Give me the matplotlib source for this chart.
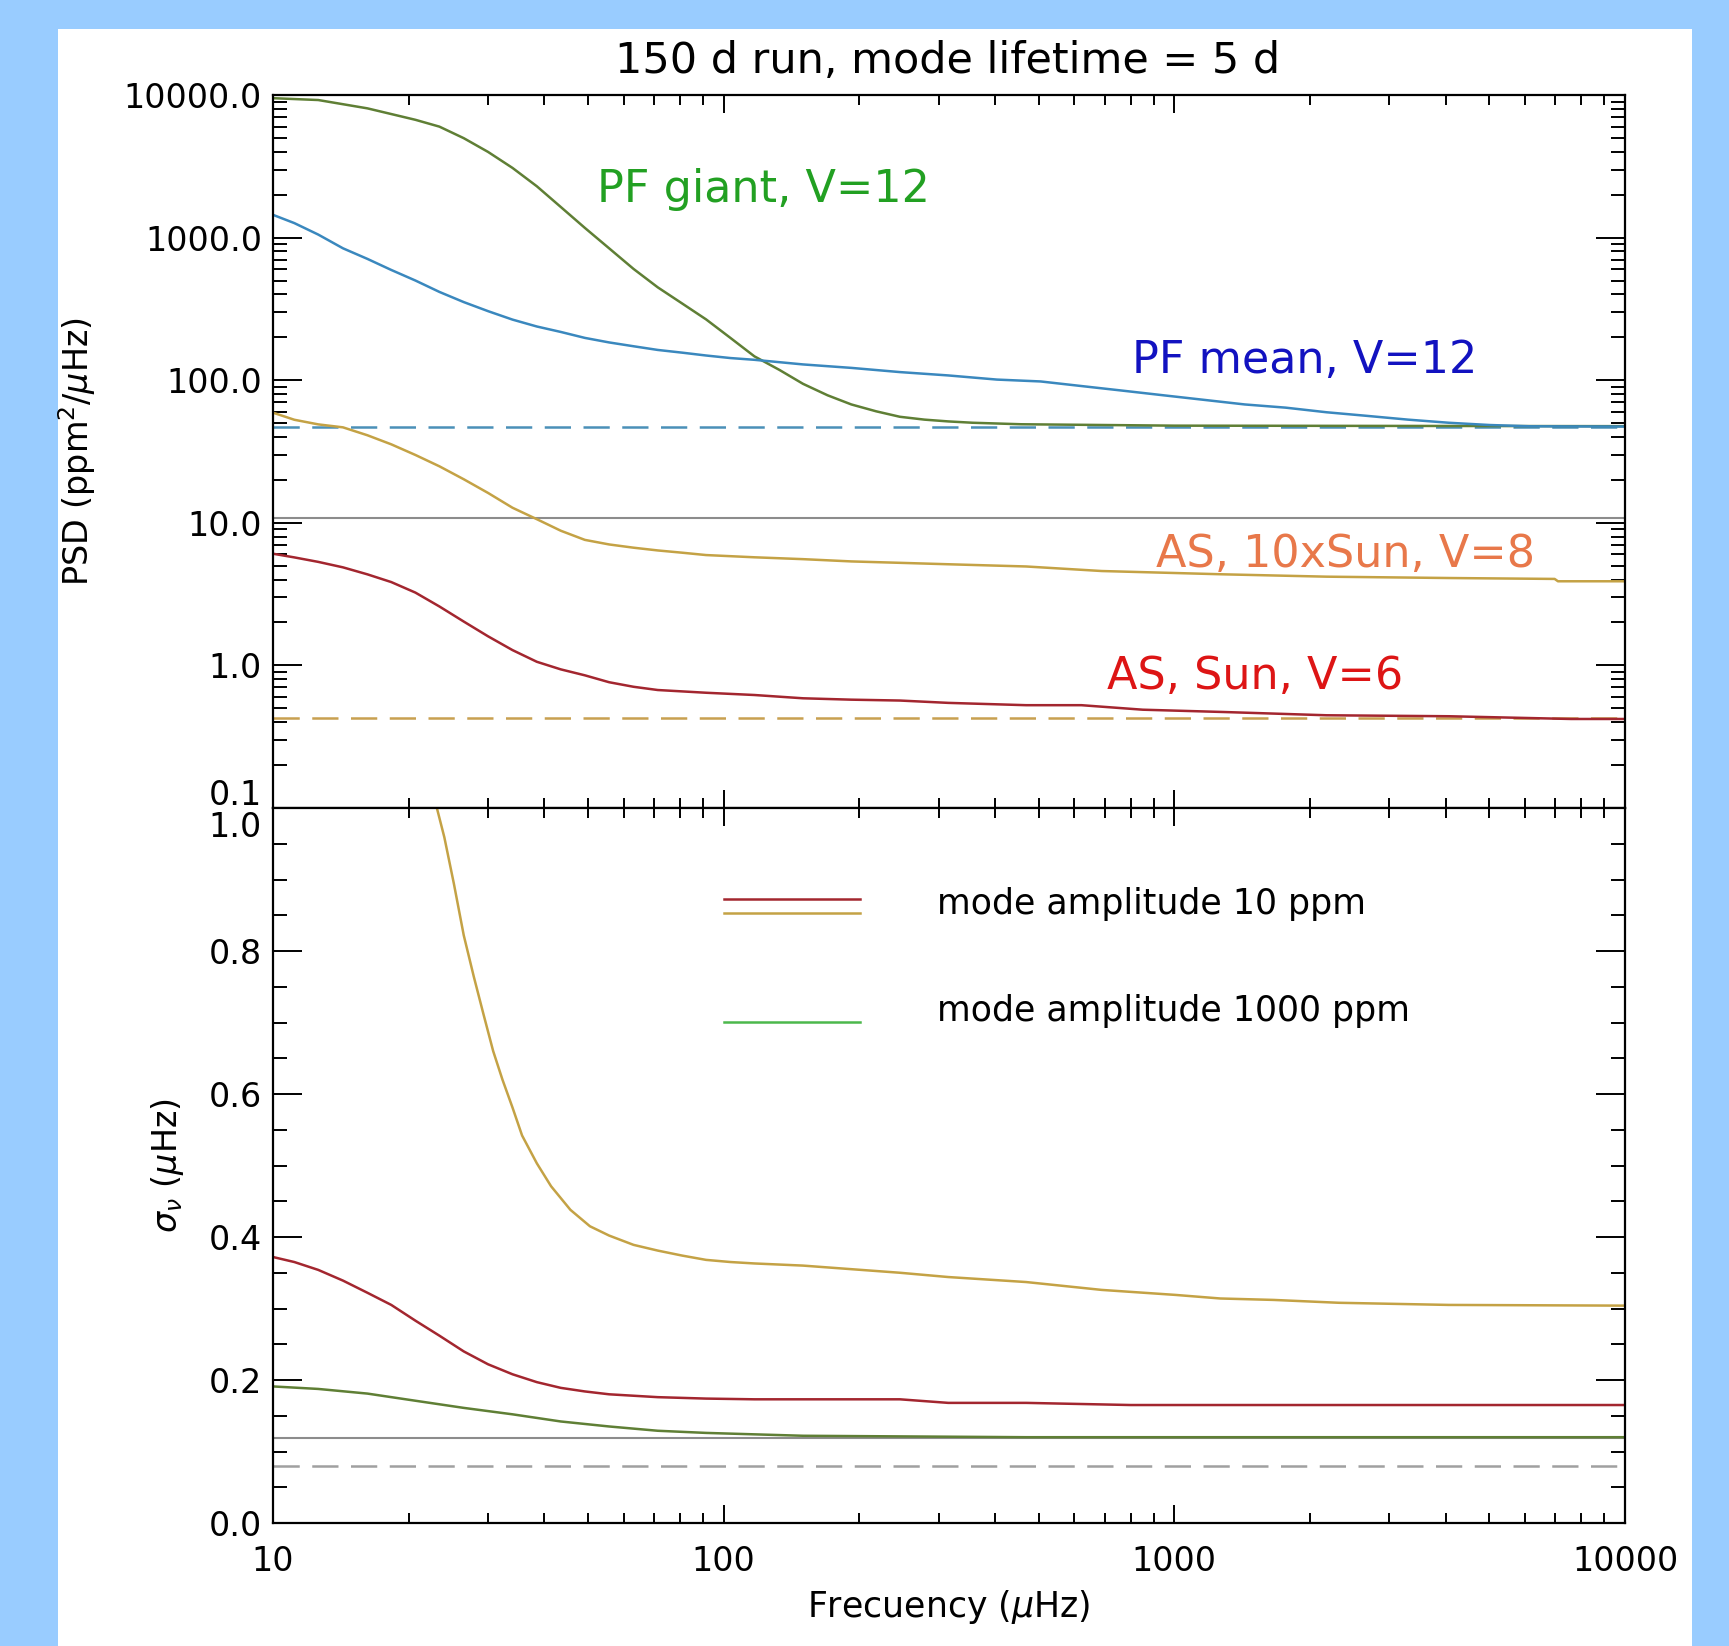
import matplotlib
matplotlib.use('Agg')
import matplotlib.pyplot as plt
import matplotlib.transforms as mtrans
from matplotlib.patches import Rectangle
from matplotlib.ticker import FixedLocator, FixedFormatter, LogLocator, MultipleLocator, NullFormatter

# ---- data ----
# upper panel: PSD (ppm^2/uHz) vs frequency (uHz)
giant_f = [10, 12.6, 16.2, 20.7, 23.4, 26.5, 30.0, 34.0, 38.5, 43.5, 49.2, 55.7, 63.1, 71.4, 80.9,
           91.4, 103.5, 117, 133, 150, 170, 192, 218, 246, 279, 315, 357, 457, 1000, 3000, 10000]
giant_psd = [9500, 9220, 8060, 6700, 6000, 4980, 3990, 3080, 2290, 1640, 1170, 841, 603, 448, 345,
             267, 198, 147, 118, 94.3, 78.4, 67.6, 60.5, 55.4, 52.9, 51.4, 50.3, 49.1, 48.0, 47.8, 47.6]

mean_f = [10, 11.15, 12.6, 14.3, 16.2, 18.3, 20.7, 23.4, 26.5, 30.0, 34.0, 38.5, 43.5, 49.2, 55.7,
          63.1, 71.4, 80.9, 91.4, 103.5, 117, 150, 192, 246, 315, 404, 505, 622, 767, 945, 1164,
          1433, 1766, 2175, 2680, 3300, 4065, 5010, 6170, 10000]
mean_psd = [1444, 1264, 1050, 841, 709, 593, 500, 416, 353, 305, 266, 238, 218, 198, 184,
            173, 163, 156, 149, 143, 139, 129, 122, 114, 108, 101, 98, 91, 84.5, 78.4, 72.8,
            67.6, 64.2, 59.6, 56.2, 52.9, 50.3, 48.5, 47.5, 47.3]

as10_f = [10, 11.15, 12.6, 14.3, 16.2, 18.3, 20.7, 23.4, 26.5, 30.0, 34.0, 38.5, 43.5, 49.2, 55.7,
          63.1, 71.4, 80.9, 91.4, 117, 150, 192, 246, 315, 469, 690, 1291, 2175, 4065, 6980, 7100, 10000]
as10_psd = [59.2, 52.8, 49.0, 46.7, 41.1, 35.5, 29.9, 24.9, 20.2, 16.2, 12.75, 10.6, 8.8, 7.59, 7.05,
            6.69, 6.40, 6.17, 5.94, 5.73, 5.56, 5.36, 5.24, 5.12, 4.94, 4.59, 4.35, 4.19, 4.10, 4.04, 3.89, 3.89]

sun_f = [10, 11.15, 12.6, 14.3, 16.2, 18.3, 20.7, 23.4, 26.5, 30.0, 34.0, 38.5, 43.5, 49.2, 55.7,
         63.1, 71.4, 91.4, 117, 150, 192, 246, 315, 469, 622, 851, 1291, 2175, 4065, 7590, 10000]
sun_psd = [6.07, 5.72, 5.32, 4.87, 4.35, 3.84, 3.24, 2.59, 2.03, 1.60, 1.28, 1.06, 0.938, 0.852, 0.762,
           0.708, 0.672, 0.643, 0.62, 0.588, 0.575, 0.567, 0.546, 0.526, 0.526, 0.489, 0.471, 0.447, 0.44, 0.421, 0.421]

noise_pf = 47.3
noise_gray = 10.8
noise_as = 0.43

# lower panel: sigma_nu (uHz) vs frequency
sig10x_f = [23.1, 24.0, 25.2, 26.5, 27.9, 29.3, 30.8, 32.3, 34.0, 35.7, 38.5, 41.4, 45.7, 50.5, 55.7,
            63.1, 71.4, 80.9, 91.4, 103.5, 117, 150, 192, 246, 315, 469, 690, 1006, 1265, 1660, 2317,
            4065, 10000]
sig10x = [1.0, 0.959, 0.894, 0.822, 0.764, 0.712, 0.66, 0.62, 0.581, 0.542, 0.503, 0.471, 0.438, 0.415, 0.402,
          0.389, 0.381, 0.374, 0.368, 0.365, 0.363, 0.36, 0.355, 0.35, 0.344, 0.337, 0.326, 0.319, 0.314, 0.312, 0.308,
          0.305, 0.304]

sigsun_f = [10, 11.15, 12.6, 14.3, 16.2, 18.3, 20.7, 23.4, 26.5, 30.0, 34.0, 38.5, 43.5, 49.2, 55.7,
            71.4, 91.4, 117, 246, 315, 469, 800, 10000]
sigsun = [0.372, 0.365, 0.354, 0.339, 0.322, 0.305, 0.283, 0.262, 0.240, 0.222, 0.208, 0.197, 0.189, 0.184, 0.180,
          0.176, 0.174, 0.173, 0.173, 0.168, 0.168, 0.165, 0.165]

siggiant_f = [10, 12.6, 16.2, 20.7, 26.5, 34.0, 43.5, 55.7, 71.4, 91.4, 117, 150, 469, 10000]
siggiant = [0.191, 0.1875, 0.181, 0.171, 0.161, 0.152, 0.142, 0.135, 0.129, 0.126, 0.124, 0.122, 0.12, 0.12]

sig_gray = 0.119
sig_dash = 0.08

xticks = [10, 100, 1000, 10000]
xticklabels = ['10', '100', '1000', '10000']
psd_ticks = [0.1, 1, 10, 100, 1000, 10000]
psd_labels = ['0.1', '1.0', '10.0', '100.0', '1000.0', '10000.0']
sig_ticks = [0.0, 0.2, 0.4, 0.6, 0.8, 1.0]
sig_labels = ['0.0', '0.2', '0.4', '0.6', '0.8', '1.0']

# colours
c_giant = '#5f7f35'
c_mean = '#3a88be'
c_as10 = '#c4a245'
c_sun = '#a3262f'

plt.rcParams['font.family'] = ['DejaVu Sans']

W, H = 1729, 1646
fig = plt.figure(figsize=(W / 100, H / 100), dpi=100, facecolor='#99ccff')
fig.patches.append(Rectangle((58 / W, 0), (1692 - 58) / W, 1 - 29 / H, transform=fig.transFigure,
                             facecolor='white', edgecolor='none', zorder=-10))

left = 273 / W
width = (1625 - 273) / W
ymid = 1 - 808 / H
ax1 = fig.add_axes([left, ymid, width, (808 - 95) / H])
ax2 = fig.add_axes([left, 1 - 1523 / H, width, (1523 - 808) / H])

lw = 1.8
# ---- upper panel ----
ax1.axhline(noise_pf, color='#4a90b8', lw=lw, dashes=(10.5, 5))
ax1.axhline(noise_gray, color='#8c8c8c', lw=1.5)
ax1.axhline(noise_as, color='#c8a050', lw=lw, dashes=(10.5, 5))
ax1.plot(giant_f, giant_psd, color=c_giant, lw=lw)
ax1.plot(mean_f, mean_psd, color=c_mean, lw=lw)
ax1.plot(as10_f, as10_psd, color=c_as10, lw=lw)
ax1.plot(sun_f, sun_psd, color=c_sun, lw=lw)
ax1.set_xscale('log')
ax1.set_yscale('log')
ax1.set_xlim(10, 10000)
ax1.set_ylim(0.1, 10000)

ax1.text(0.2396, 0.8668, 'PF giant, V=12', transform=ax1.transAxes, color='#22a022', fontsize=32, va='center')
ax1.text(0.6354, 0.627, 'PF mean, V=12', transform=ax1.transAxes, color='#1212c0', fontsize=32, va='center')
ax1.text(0.653, 0.355, 'AS, 10xSun, V=8', transform=ax1.transAxes, color='#e8784a', fontsize=32, va='center')
ax1.text(0.617, 0.185, 'AS, Sun, V=6', transform=ax1.transAxes, color='#dd1515', fontsize=32, va='center')

ax1.yaxis.set_major_locator(FixedLocator(psd_ticks))
ax1.yaxis.set_major_formatter(FixedFormatter(psd_labels))
ax1.yaxis.set_minor_locator(LogLocator(base=10, subs=range(2, 10), numticks=20))
ax1.yaxis.set_minor_formatter(NullFormatter())
ax1.set_ylabel('PSD (ppm$^2$/$\\mu$Hz)', fontsize=24, va='center')
ax1.yaxis.set_label_coords(-0.145, 0.5)

# ---- lower panel ----
ax2.axhline(sig_gray, color='#8c8c8c', lw=1.5)
ax2.axhline(sig_dash, color='#a0a0a0', lw=lw, dashes=(10.5, 5))
ax2.plot(sig10x_f, sig10x, color=c_as10, lw=lw)
ax2.plot(sigsun_f, sigsun, color=c_sun, lw=lw)
ax2.plot(siggiant_f, siggiant, color=c_giant, lw=lw)
ax2.set_xscale('log')
ax2.set_xlim(10, 10000)
ax2.set_ylim(0, 1)
ax2.yaxis.set_major_locator(FixedLocator(sig_ticks))
ax2.yaxis.set_major_formatter(FixedFormatter(sig_labels))
ax2.yaxis.set_minor_locator(MultipleLocator(0.05))
ax2.set_ylabel('$\\sigma_\\nu$ ($\\mu$Hz)', fontsize=24, va='center')
ax2.yaxis.set_label_coords(-0.0777, 0.5)
ax2.set_xlabel('Frecuency ($\\mu$Hz)', fontsize=25, va='center')
ax2.xaxis.set_label_coords(0.5, -0.1175)

# legend drawn by hand like the original
ax2.plot([0.3336, 0.434], [0.8727, 0.8727], color=c_sun, lw=lw, transform=ax2.transAxes)
ax2.plot([0.3336, 0.434], [0.853, 0.853], color=c_as10, lw=lw, transform=ax2.transAxes)
ax2.plot([0.3336, 0.434], [0.7007, 0.7007], color='#4cb84c', lw=lw, transform=ax2.transAxes)
ax2.text(0.491, 0.866, 'mode amplitude 10 ppm', transform=ax2.transAxes, fontsize=25, va='center')
ax2.text(0.491, 0.716, 'mode amplitude 1000 ppm', transform=ax2.transAxes, fontsize=25, va='center')

for ax in (ax1, ax2):
    ax.xaxis.set_major_locator(FixedLocator(xticks))
    ax.xaxis.set_minor_locator(LogLocator(base=10, subs=range(2, 10), numticks=20))
    ax.xaxis.set_minor_formatter(NullFormatter())
    ax.tick_params(which='both', direction='in', top=True, right=True, width=1.4, colors='black')
    ax.tick_params(axis='y', which='major', length=21, pad=8, labelsize=24)
    ax.tick_params(axis='y', which='minor', length=10)
    ax.tick_params(axis='x', which='major', length=13, pad=16, labelsize=24)
    ax.tick_params(axis='x', which='minor', length=7)
    for s in ax.spines.values():
        s.set_linewidth(1.6)
ax1.xaxis.set_major_formatter(NullFormatter())
ax2.xaxis.set_major_formatter(FixedFormatter(xticklabels))

fig.text(948 / W, 1 - 61 / H, '150 d run, mode lifetime = 5 d', ha='center', va='center', fontsize=31)

# the 0.1 and 1.0 labels share the panel boundary: stack them like the original
lab01 = ax1.get_yticklabels()[0]
lab01.set_transform(lab01.get_transform() + mtrans.ScaledTranslation(0, 16 / 100, fig.dpi_scale_trans))
lab10 = ax2.get_yticklabels()[-1]
lab10.set_transform(lab10.get_transform() + mtrans.ScaledTranslation(0, -16 / 100, fig.dpi_scale_trans))

fig.savefig('out.png', dpi=100, facecolor=fig.get_facecolor())
